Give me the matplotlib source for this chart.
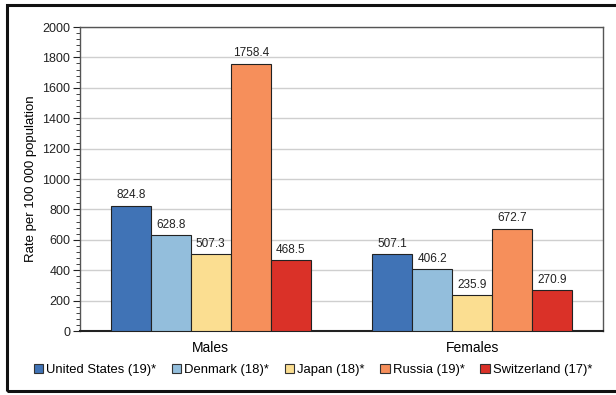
import matplotlib
matplotlib.use("Agg")
import matplotlib.pyplot as plt
from matplotlib.patches import Rectangle, Patch
from matplotlib.ticker import MultipleLocator
import numpy as np

plt.rcParams['font.family'] = ['Liberation Sans', 'DejaVu Sans']

groups = ["Males", "Females"]
countries = ["United States (19)*", "Denmark (18)*", "Japan (18)*", "Russia (19)*", "Switzerland (17)*"]
values = {
    "United States (19)*": [824.8, 507.1],
    "Denmark (18)*": [628.8, 406.2],
    "Japan (18)*": [507.3, 235.9],
    "Russia (19)*": [1758.4, 672.7],
    "Switzerland (17)*": [468.5, 270.9],
}
colors = ["#4073B6", "#93BEDC", "#FBDE91", "#F68F5B", "#DA3128"]
ylabel = "Rate per 100 000 population"

fig = plt.figure(figsize=(6.16, 3.95), dpi=100)
ax = fig.add_axes([80/616, 64/395, 523/616, 304/395])

x = np.arange(len(groups))
w = 0.153
n = len(countries)
for i, (c, col) in enumerate(zip(countries, colors)):
    pos = x + (i - (n - 1) / 2) * w
    bars = ax.bar(pos, values[c], width=w, color=col, edgecolor="#222222", linewidth=0.8, zorder=3)
    for b, v in zip(bars, values[c]):
        ax.text(b.get_x() + b.get_width() / 2, v + 28, f"{v:.1f}", ha="center", va="bottom",
                fontsize=8.5, color="#222222", zorder=4)

ax.set_xlim(-0.5, 1.5)
ax.set_ylim(0, 2000)
ax.yaxis.set_major_locator(MultipleLocator(200))
ax.yaxis.set_minor_locator(MultipleLocator(40))
ax.set_xticks(x)
ax.set_xticklabels(groups, fontsize=10)
ax.tick_params(axis="x", length=0, pad=7)
ax.tick_params(axis="y", which="major", length=5, width=0.8, labelsize=9, pad=2, colors="#222222")
ax.tick_params(axis="y", which="minor", length=3, width=0.6, colors="#222222")
ax.set_ylabel(ylabel, fontsize=9.5, labelpad=4)
ax.grid(axis="y", color="#CFCFCF", linewidth=1.0, zorder=0)
for s in ["top", "right", "left"]:
    ax.spines[s].set_color("#555555")
    ax.spines[s].set_linewidth(1.0)
ax.spines["bottom"].set_color("#222222")
ax.spines["bottom"].set_linewidth(1.5)

handles = [Patch(facecolor=col, edgecolor="#333333", linewidth=0.8) for col in colors]
fig.legend(handles, countries, loc="center", bbox_to_anchor=(313/616, 1 - 370/395), ncol=5,
           frameon=False, fontsize=9.4, handlelength=0.7, handleheight=0.7, handletextpad=0.25,
           columnspacing=1.2, borderaxespad=0)

fig.patches.append(Rectangle((7/616, 4/395), 1.0, 1 - 9/395, transform=fig.transFigure,
                             fill=False, edgecolor="#111111", linewidth=2.2))

fig.savefig("out.png", dpi=100)
